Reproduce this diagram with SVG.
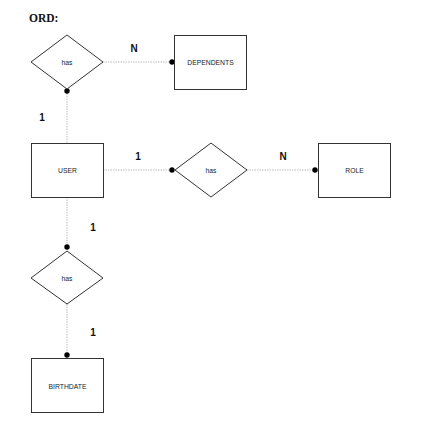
<svg xmlns="http://www.w3.org/2000/svg" width="423" height="427" viewBox="0 0 423 427">
<style>
.box{fill:#fff;stroke:#333;stroke-width:1}
.lbl{font-family:"Liberation Sans",Arial,sans-serif;font-size:6.8px;fill:#222;text-anchor:middle;dominant-baseline:central}
.card{font-family:"Liberation Sans",Arial,sans-serif;font-size:10px;font-weight:bold;fill:#111;text-anchor:middle;dominant-baseline:central}
.con{stroke:#bbb;stroke-width:1;stroke-dasharray:1.5,1;fill:none}
.dot{fill:#000}
</style>
<rect width="423" height="427" fill="#fff"/>
<text x="29" y="22" font-family="'Liberation Serif',serif" font-size="11.5" font-weight="bold" fill="#111">ORD:</text>
<g id="connectors">
<line class="con" x1="103" y1="62" x2="172" y2="62"/>
<line class="con" x1="67" y1="91" x2="67" y2="143"/>
<line class="con" x1="103" y1="170" x2="172" y2="170"/>
<line class="con" x1="247" y1="170" x2="315" y2="170"/>
<line class="con" x1="67" y1="197" x2="67" y2="247"/>
<line class="con" x1="67" y1="304" x2="67" y2="355"/>
<circle class="dot" cx="172" cy="62" r="2.7"/>
<circle class="dot" cx="67" cy="91" r="2.7"/>
<circle class="dot" cx="172" cy="170" r="2.7"/>
<circle class="dot" cx="315" cy="170" r="2.7"/>
<circle class="dot" cx="67" cy="247" r="2.7"/>
<circle class="dot" cx="67" cy="355" r="2.7"/>
<text class="card" x="134" y="48">N</text>
<text class="card" x="42" y="117">1</text>
<text class="card" x="138" y="156">1</text>
<text class="card" x="283" y="156">N</text>
<text class="card" x="93" y="227">1</text>
<text class="card" x="93" y="332">1</text>
</g>
<g id="has1"><polygon class="box" points="31,62 67,35 103,62 67,89"/><text class="lbl" x="67" y="62">has</text></g>
<g id="dependents"><rect class="box" x="174.5" y="35.5" width="72" height="54"/><text class="lbl" x="210.5" y="62">DEPENDENTS</text></g>
<g id="user"><rect class="box" x="31.5" y="143.5" width="72" height="54"/><text class="lbl" x="67.5" y="170">USER</text></g>
<g id="has2"><polygon class="box" points="175,170 211,143 247,170 211,197"/><text class="lbl" x="211" y="170">has</text></g>
<g id="role"><rect class="box" x="318.5" y="143.5" width="72" height="54"/><text class="lbl" x="354.5" y="170">ROLE</text></g>
<g id="has3"><polygon class="box" points="31,278 67,251 103,278 67,304"/><text class="lbl" x="67" y="278">has</text></g>
<g id="birthdate"><rect class="box" x="31.5" y="358.5" width="72" height="54"/><text class="lbl" x="67.5" y="386">BIRTHDATE</text></g>
</svg>
